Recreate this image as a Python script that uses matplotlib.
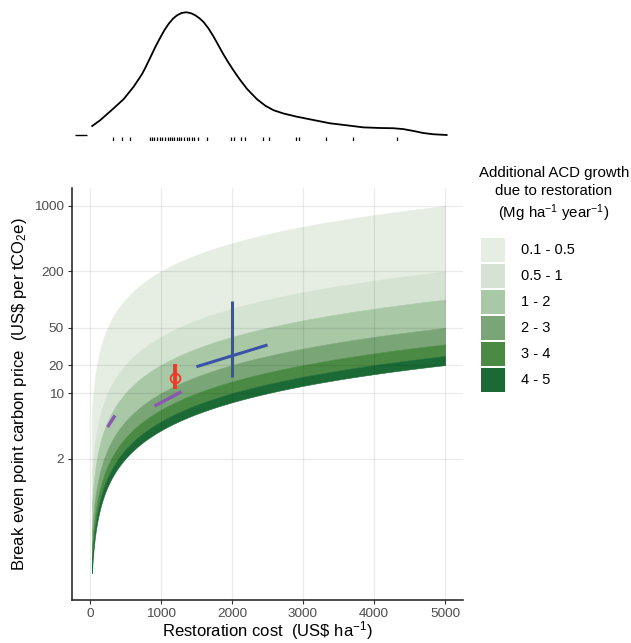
import numpy as np
import matplotlib.pyplot as plt
from matplotlib.patches import Rectangle

plt.rcParams['font.family'] = ['Liberation Sans', 'DejaVu Sans']
plt.rcParams['mathtext.fontset'] = 'custom'
plt.rcParams['mathtext.rm'] = 'Liberation Sans'
plt.rcParams['mathtext.it'] = 'Liberation Sans:italic'
plt.rcParams['mathtext.default'] = 'regular'

# growth classes (Mg ha-1 yr-1)
growth_lo = [0.1, 0.5, 1, 2, 3, 4]
growth_hi = [0.5, 1, 2, 3, 4, 5]
class_labels = ['0.1 - 0.5', '0.5 - 1', '1 - 2', '2 - 3', '3 - 4', '4 - 5']
class_colors = ['#e6eee4', '#d5e3d3', '#a9c8a6', '#7aa677', '#4b8a45', '#1b6a35']

# tCO2e credited per Mg ha-1 yr-1 of extra growth
co2e_per_growth = 50
cost_grid = np.arange(30, 5001, 10)

# published restoration cost / carbon price estimates
purple_cost = [[250, 355], [910, 1290]]
purple_price = [[4.35, 5.8], [7.3, 10.4]]
blue_cost = [[2000, 2000], [1500, 2500]]
blue_price = [[15, 97], [19.2, 32.8]]
red_cost = 1200
red_price = 14.5
red_range = [11, 20.4]

# cost distribution of restoration projects
rug_costs = [330, 450, 560, 850, 880, 910, 950, 990, 1020, 1060, 1100, 1130,
             1160, 1190, 1230, 1260, 1290, 1330, 1370, 1400, 1440, 1460, 1520,
             1650, 1990, 2030, 2130, 2190, 2440, 2520, 2900, 2950, 3320, 3700,
             4320]
density_cost = [34, 150, 337, 478, 618, 736, 782, 853, 923, 993, 1049, 1110,
                1171, 1228, 1292, 1358, 1424, 1485, 1545, 1601, 1671, 1742,
                1812, 1882, 1952, 2022, 2107, 2211, 2351, 2468, 2584, 2725,
                2913, 3146, 3381, 3615, 3848, 4083, 4270, 4410, 4551, 4691,
                4831, 5020]
density_val = [0.073, 0.122, 0.218, 0.293, 0.394, 0.497, 0.548, 0.633, 0.718,
               0.795, 0.853, 0.906, 0.948, 0.975, 0.994, 1.0, 0.992, 0.975,
               0.950, 0.920, 0.867, 0.801, 0.728, 0.655, 0.588, 0.526, 0.455,
               0.376, 0.292, 0.239, 0.202, 0.175, 0.149, 0.122, 0.095, 0.079,
               0.062, 0.057, 0.055, 0.048, 0.033, 0.016, 0.006, 0.0]

x_ticks = [0, 1000, 2000, 3000, 4000, 5000]
y_ticks = [2, 10, 20, 50, 200, 1000]

W, H = 631, 643
fig = plt.figure(figsize=(W / 100, H / 100), dpi=100)

# density panel
ax_top = fig.add_axes([72 / W, 1 - 141 / H, 391 / W, 134.4 / H])
ax_top.plot(density_cost, density_val, color='black', lw=1.3,
            solid_joinstyle='round')
ax_top.vlines(rug_costs, 0, 0.03, transform=ax_top.get_xaxis_transform(),
              color='black', lw=0.9)
ax_top.hlines(0, 0.008, 0.038, transform=ax_top.get_yaxis_transform(),
              color='black', lw=1.0)
ax_top.set_xlim(-250, 5250)
ax_top.set_ylim(-0.049, 1.046)
ax_top.axis('off')

# main panel
ax = fig.add_axes([72 / W, 1 - 600 / H, 391 / W, 412 / H])
ax.set_yscale('log')
for lo, hi, c in zip(growth_lo, growth_hi, class_colors):
    ax.fill_between(cost_grid, cost_grid / (co2e_per_growth * hi),
                    cost_grid / (co2e_per_growth * lo),
                    facecolor=c, edgecolor=c, lw=0.4, zorder=1)

# grid darkens whatever is underneath
for xt in x_ticks:
    ax.axvline(xt, color='black', alpha=0.08, lw=0.9, zorder=2)
for yt in y_ticks:
    ax.axhline(yt, color='black', alpha=0.08, lw=0.9, zorder=2)

for xs, ys in zip(purple_cost, purple_price):
    ax.plot(xs, ys, color='#8b58b0', lw=2.4, solid_capstyle='butt', zorder=3)
for xs, ys in zip(blue_cost, blue_price):
    ax.plot(xs, ys, color='#3b52a6', lw=2.2, solid_capstyle='butt', zorder=3)
ax.plot([red_cost, red_cost], red_range, color='#ee3a26', lw=2.8,
        solid_capstyle='butt', zorder=3)
ax.plot(red_cost, red_price, marker='o', mfc='none', mec='#ee3a26', ms=7,
        mew=1.3, zorder=4)

ax.set_xlim(-250, 5250)
ax.set_ylim(0.062, 1556)
ax.set_xticks(x_ticks)
ax.set_xticklabels([str(v) for v in x_ticks])
ax.set_yticks(y_ticks)
ax.set_yticklabels([str(v) for v in y_ticks])
ax.minorticks_off()
ax.tick_params(labelsize=9.7, labelcolor='#4d4d4d', color='#333333',
               length=3, width=0.8, pad=3)
for side in ['top', 'right']:
    ax.spines[side].set_visible(False)
for side in ['left', 'bottom']:
    ax.spines[side].set_color('#1a1a1a')
    ax.spines[side].set_linewidth(1.1)

fig.text(267 / W, 1 - 631 / H, r'Restoration cost  (US\$ ha$^{-1}$)',
         ha='center', va='center', fontsize=12)
fig.text(20 / W, 1 - 394 / H,
         r'Break even point carbon price  (US\$ per tCO$_2$e)',
         ha='center', va='center', rotation=90, fontsize=12)

# legend
fig.text(554 / W, 1 - 195 / H,
         'Additional ACD growth\ndue to restoration\n(Mg ha$^{-1}$ year$^{-1}$)',
         ha='center', va='center', multialignment='center', fontsize=10.8,
         linespacing=1.3)
for i, (c, lab) in enumerate(zip(class_colors, class_labels)):
    top = 238.3 + i * 26
    fig.patches.append(Rectangle((481 / W, 1 - (top + 23.4) / H), 23.6 / W,
                                 23.4 / H, transform=fig.transFigure,
                                 facecolor=c, edgecolor='none'))
    fig.text(521 / W, 1 - (top + 11.7) / H, lab, ha='left', va='center',
             fontsize=10.5)

fig.savefig('out.png', dpi=100)
